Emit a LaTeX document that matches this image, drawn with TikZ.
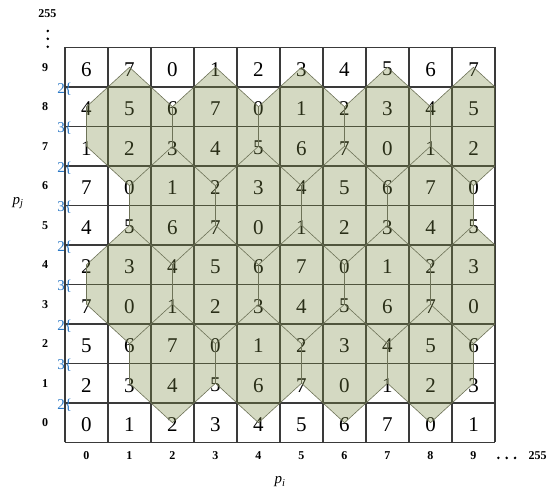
\documentclass[tikz,border=0pt]{standalone}
\usepackage{fontspec}
\setmainfont{Liberation Serif}
\usepackage{xcolor}
\definecolor{sage}{HTML}{7D8C46}
\definecolor{gridline}{HTML}{3A3A3A}
\definecolor{hexline}{HTML}{6E7358}
\definecolor{shiftblue}{HTML}{2A78C6}
\usepackage{tikz}
\usetikzlibrary{positioning}
\tikzset{
  cellnum/.style ={font=\fontsize{21}{21}\selectfont,inner sep=0pt},
  axlbl/.style   ={font=\fontsize{12}{12}\selectfont\bfseries,inner sep=1pt},
  shiftlbl/.style={font=\fontsize{15}{15}\selectfont,text=shiftblue,
                   inner sep=0pt,anchor=east},
  varlbl/.style  ={font=\fontsize{15}{15}\selectfont\itshape,inner sep=1pt},
  tile/.style    ={fill=sage,fill opacity=0.33},
  tileedge/.style={draw=hexline,line width=0.6pt},
  dotmark/.style ={fill=black},
}
% one hexagonal tile, centre given in cell units
\newcommand{\hexat}[2]{(#1,#2+1.5) -- (#1+1,#2+0.5) -- (#1+1,#2-0.5)
  -- (#1,#2-1.5) -- (#1-1,#2-0.5) -- (#1-1,#2+0.5) -- cycle}

\begin{document}
\begin{tikzpicture}[x=43pt,y=39.5pt]
\useasboundingbox (-1.5116,-1.2532) rectangle (11.2791,11.2025);
\fill[white] (-1.5116,-1.2532) rectangle (11.2791,11.2025);
% cell values
\foreach \j/\o in {0/0,1/2,2/5,3/7,4/2,5/4,6/7,7/1,8/4,9/6}
  \foreach \i in {0,...,9}
  {\pgfmathtruncatemacro{\v}{mod(\i+\o,8)}
   \node[cellnum] (n\i-\j) at (\i+0.5,\j+0.45) {\v};}
% grid
\foreach \k in {0,...,10}
  {\draw[gridline,line width=1.1pt] (\k,0) -- (\k,10);
   \draw[gridline,line width=1.1pt] (0,\k) -- (10,\k);}
% tiles
\begin{scope}
\clip (0,0) rectangle (10,10);
\fill[tile] foreach \cy in {8,4} {foreach \cx in {1.5,3.5,5.5,7.5,9.5} {\hexat{\cx}{\cy}}}
            foreach \cy in {6,2} {foreach \cx in {2.5,4.5,6.5,8.5} {\hexat{\cx}{\cy}}};
\draw[tileedge] foreach \cy in {8,4} {foreach \cx in {1.5,3.5,5.5,7.5,9.5} {\hexat{\cx}{\cy}}}
                foreach \cy in {6,2} {foreach \cx in {2.5,4.5,6.5,8.5} {\hexat{\cx}{\cy}}};
\end{scope}
% row shifts
\foreach \y/\s in {1/2,2/3,3/2,4/3,5/2,6/3,7/2,8/3,9/2}
  \node[shiftlbl] (s\y) at (0.17,\y-0.05) {\s\{};
% axis labels
\foreach \j in {0,...,9}
  \node[axlbl] (r\j) at (-0.46,\j+0.5) {\j};
\foreach \i in {0,...,9}
  \node[axlbl] (c\i) at (\i+0.5,-0.34) {\i};
\node[axlbl] (rtop) at (-0.41,10.87) {255};
\foreach \k in {0,1,2}
  \fill[dotmark] (-0.40,10.42-0.2*\k) circle (1.4pt);
\foreach \k in {0,1,2}
  \fill[dotmark] (10.08+0.193*\k,-0.39) circle (1.4pt);
\node[axlbl] (cend) at (10.99,-0.34) {255};
\node[varlbl] (pj) at (-1.09,6.06) {p\textsubscript{j}};
\node[varlbl] (pi) at (5.0,-1.0) {p\textsubscript{i}};
\end{tikzpicture}
\end{document}
